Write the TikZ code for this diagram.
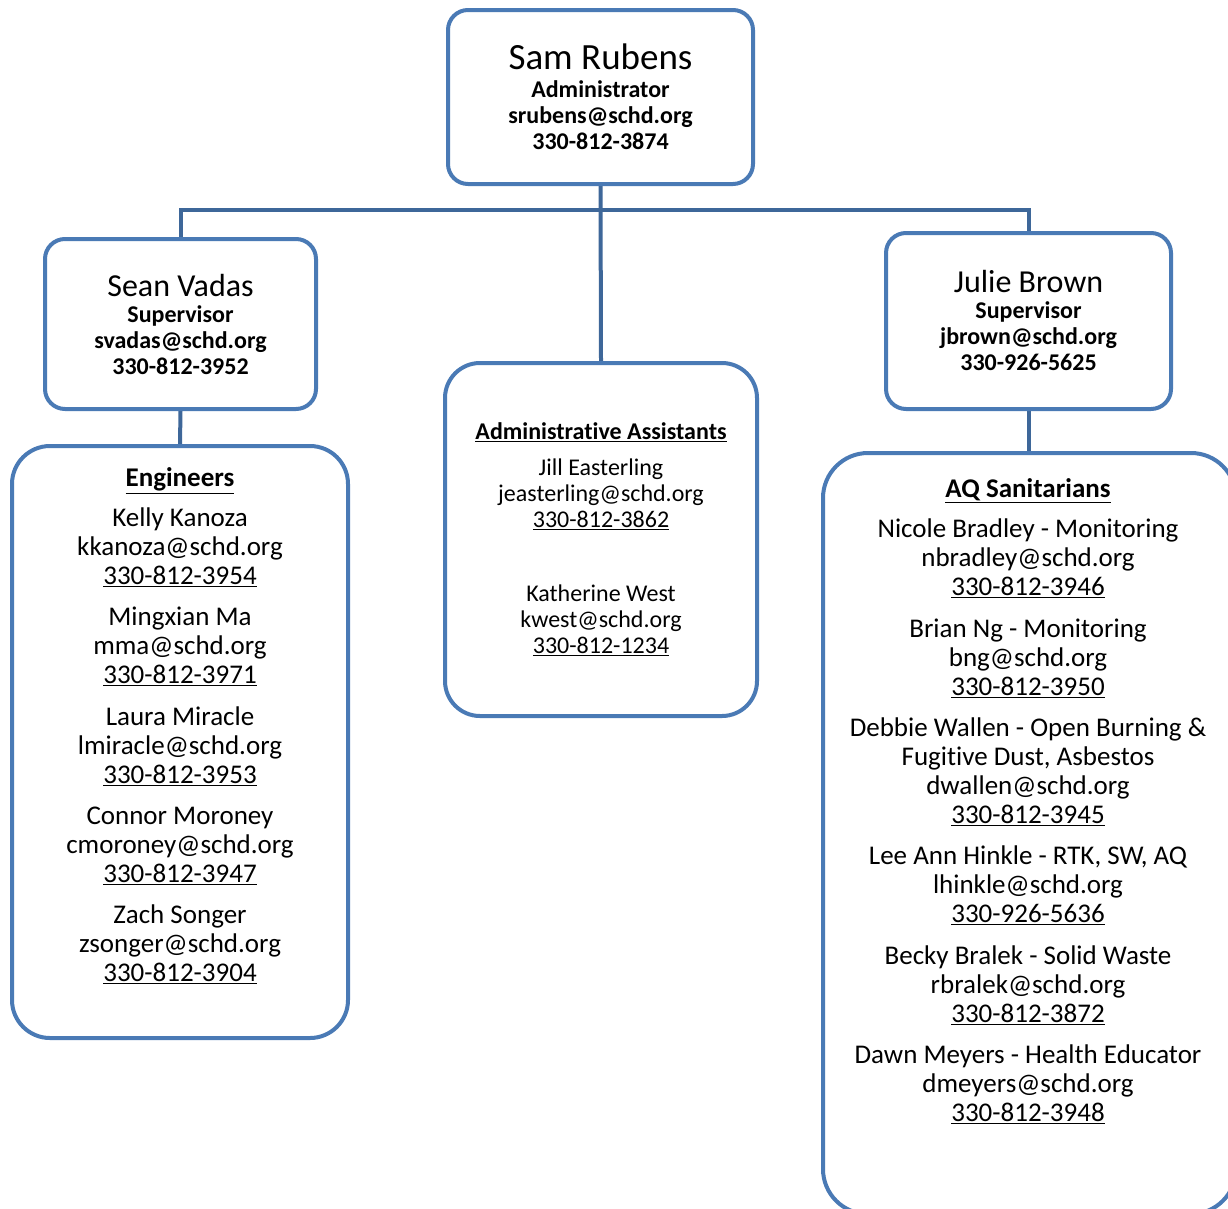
\documentclass[tikz,border=0pt]{standalone}
\usepackage{fontspec}
\setmainfont{Carlito}[Ligatures=NoCommon]
\usetikzlibrary{backgrounds}
\definecolor{boxblue}{HTML}{4A7AB5}
\definecolor{linkblue}{HTML}{3E6799}
\tikzset{
  orgbox/.style={draw=boxblue, line width=4pt, rounded corners=20pt, fill=white, inner sep=0pt},
  conn/.style={draw=linkblue, line width=4pt},
  body/.style={align=center, inner sep=0pt, font=\fontsize{27}{29}\selectfont},
  small/.style={align=center, inner sep=0pt, font=\fontsize{24}{26}\selectfont\bfseries},
  smallplain/.style={align=center, inner sep=0pt, font=\fontsize{24}{26}\selectfont},
  bigname/.style={inner sep=0pt, font=\fontsize{37}{40}\selectfont},
  midname/.style={inner sep=0pt, font=\fontsize{32}{35}\selectfont},
}
\newcommand{\pl}[3]{#1\strut\\#2\strut\\\underline{#3}\strut}
\begin{document}
\begin{tikzpicture}[x=1pt,y=-1pt]
\useasboundingbox (0,0) rectangle (1228,1208);

% boxes
\node[orgbox, minimum width=305pt, minimum height=174pt] (sam) at (600.5,97) {};
\node[orgbox, minimum width=271pt, minimum height=170pt] (sean) at (180.5,324) {};
\node[orgbox, minimum width=285pt, minimum height=176pt] (julie) at (1028.5,321) {};
\node[orgbox, rounded corners=38pt, minimum width=336pt, minimum height=592pt] (eng) at (180,742) {};
\node[orgbox, rounded corners=35pt, minimum width=312pt, minimum height=353pt] (admin) at (601,539.5) {};
\node[orgbox, rounded corners=45pt, minimum width=413pt, minimum height=761pt] (aq) at (1029.5,833.5) {};

% connectors
\coordinate (busL) at (180.5,210);
\coordinate (busR) at (1028.5,210);
\begin{scope}[on background layer]
\draw[conn] (sean.north) -- (busL) -- (busR) -- (julie.north);
\draw[conn] (sam.south) -- (admin.north);
\draw[conn] (sean.south) -- (eng.north);
\draw[conn] (julie.south) -- (julie.south |- aq.north);
\end{scope}

% Sam
\node[bigname] (samn) at (600.5,57) {Sam Rubens};
\node[small] (samt) at (600.5,118) {Administrator\strut\\srubens@schd.org\strut\\330-812-3874\strut};

% Sean
\node[midname] (seann) at (180.5,286) {Sean Vadas};
\node[small] (seant) at (180.5,343) {Supervisor\strut\\svadas@schd.org\strut\\330-812-3952\strut};

% Julie
\node[midname] (julien) at (1028.5,282) {Julie Brown};
\node[small] (juliet) at (1028.5,339) {Supervisor\strut\\jbrown@schd.org\strut\\330-926-5625\strut};

% Engineers
\node[body, font=\fontsize{27}{29}\selectfont\bfseries] (engt) at (180,481) {\underline{Engineers}\strut};
\node[body] (e1) at (180,550) {\pl{Kelly Kanoza}{kkanoza@schd.org}{330-812-3954}};
\node[body] (e2) at (180,649) {\pl{Mingxian Ma}{mma@schd.org}{330-812-3971}};
\node[body] (e3) at (180,749) {\pl{Laura Miracle}{lmiracle@schd.org}{330-812-3953}};
\node[body] (e4) at (180,848) {\pl{Connor Moroney}{cmoroney@schd.org}{330-812-3947}};
\node[body] (e5) at (180,947) {\pl{Zach Songer}{zsonger@schd.org}{330-812-3904}};

% Admin assistants
\node[small] (admt) at (601,434.5) {\underline{Administrative Assistants}\strut};
\node[smallplain] (a1) at (601,496.5) {\pl{Jill Easterling}{jeasterling@schd.org}{330-812-3862}};
\node[smallplain] (a2) at (601,622.5) {\pl{Katherine West}{kwest@schd.org}{330-812-1234}};

% AQ Sanitarians
\node[body, font=\fontsize{27}{29}\selectfont\bfseries] (aqt) at (1028,492) {\underline{AQ Sanitarians}\strut};
\node[body] (q1) at (1028,561) {\pl{Nicole Bradley - Monitoring}{nbradley@schd.org}{330-812-3946}};
\node[body] (q2) at (1028,661) {\pl{Brian Ng - Monitoring}{bng@schd.org}{330-812-3950}};
\node[body] (q3) at (1028,774.5) {Debbie Wallen - Open Burning \&\strut\\Fugitive Dust, Asbestos\strut\\dwallen@schd.org\strut\\\underline{330-812-3945}\strut};
\node[body] (q4) at (1028,888) {\pl{Lee Ann Hinkle - RTK, SW, AQ}{lhinkle@schd.org}{330-926-5636}};
\node[body] (q5) at (1028,988) {\pl{Becky Bralek - Solid Waste}{rbralek@schd.org}{330-812-3872}};
\node[body] (q6) at (1028,1087) {\pl{Dawn Meyers - Health Educator}{dmeyers@schd.org}{330-812-3948}};
\end{tikzpicture}
\end{document}
